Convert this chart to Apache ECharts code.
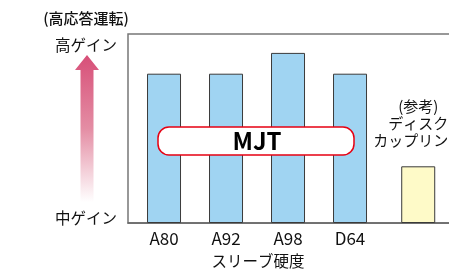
<!DOCTYPE html>
<html>
<head>
<meta charset="utf-8">
<script src="https://cdn.jsdelivr.net/npm/echarts@6/dist/echarts.min.js"></script>
<style>
  html, body { margin: 0; padding: 0; background: #fff; }
  #chart { width: 449px; height: 270px; }
</style>
</head>
<body>
<div id="chart"></div>
<script>
const categories = ['A80', 'A92', 'A98', 'D64'];
const positions = [1, 2, 3, 4];
const gains = [79, 79, 90, 79];
const refName = '(参考)\nディスク\nカップリング';
const refPosition = 5.1;
const refGain = 30;

const FONT = '"Noto Sans CJK JP", "Noto Sans", sans-serif';

const chart = echarts.init(document.getElementById('chart'));

const option = {
  animation: false,
  grid: {
    left: 128, top: 34, height: 189, width: 341,
    outerBoundsMode: 'none',
    show: true, borderColor: '#777', borderWidth: 1.5, backgroundColor: '#fff'
  },
  xAxis: {
    type: 'value',
    min: 0.419, max: 0.419 + 341 / 62,
    splitLine: { show: false },
    axisTick: { show: false },
    axisLine: { show: true, onZero: false, lineStyle: { color: '#666', width: 1.5 } },
    axisLabel: {
      show: true,
      customValues: positions,
      formatter: v => categories[positions.indexOf(v)] || '',
      margin: 7,
      color: '#111', fontSize: 17, fontFamily: FONT
    }
  },
  yAxis: {
    type: 'value', min: 0, max: 100,
    show: false
  },
  series: [
    {
      type: 'bar',
      barWidth: 34,
      data: positions.map((p, i) => [p, gains[i]]),
      itemStyle: { color: '#a0d4f2', borderColor: '#3a3a3a', borderWidth: 1 }
    },
    {
      type: 'bar',
      barWidth: 34,
      barGap: '-100%',
      data: [[refPosition, refGain]],
      itemStyle: { color: '#fefac8', borderColor: '#3a3a3a', borderWidth: 1 },
      label: {
        show: true, position: 'top', distance: 18,
        formatter: refName,
        color: '#111', fontSize: 15, lineHeight: 17, fontFamily: FONT,
        align: 'center'
      }
    }
  ],
  graphic: [
    {
      type: 'text',
      style: { text: 'スリーブ硬度', x: 258, y: 261, align: 'center', verticalAlign: 'middle',
               fill: '#111', fontSize: 15.5, fontFamily: FONT }
    },
    {
      type: 'rect',
      shape: { x: 158, y: 127, width: 196, height: 28, r: 11 },
      style: { fill: '#fff', stroke: '#e60012', lineWidth: 1.5 },
      z: 100
    },
    {
      type: 'text',
      style: { text: 'MJT', x: 257, y: 141, align: 'center', verticalAlign: 'middle',
               fill: '#000', fontSize: 24, fontWeight: 'bold', fontFamily: FONT },
      z: 101
    },
    {
      type: 'text',
      style: { text: '(高応答運転)', x: 86, y: 18, align: 'center', verticalAlign: 'middle',
               fill: '#111', fontSize: 15, fontWeight: 500, fontFamily: FONT }
    },
    {
      type: 'text',
      style: { text: '高ゲイン', x: 86, y: 45, align: 'center', verticalAlign: 'middle',
               fill: '#111', fontSize: 15.5, fontFamily: FONT }
    },
    {
      type: 'text',
      style: { text: '中ゲイン', x: 86, y: 218, align: 'center', verticalAlign: 'middle',
               fill: '#111', fontSize: 15.5, fontFamily: FONT }
    },
    {
      type: 'polygon',
      shape: { points: [[87, 55], [99, 70], [93.5, 70], [93.5, 202], [80.5, 202], [80.5, 70], [75, 70]] },
      style: {
        fill: new echarts.graphic.LinearGradient(0, 0, 0, 1, [
          { offset: 0, color: '#d74f78' },
          { offset: 0.5, color: '#e48da4' },
          { offset: 1, color: 'rgba(255,255,255,1)' }
        ])
      }
    }
  ]
};

chart.setOption(option);
</script>
</body>
</html>
